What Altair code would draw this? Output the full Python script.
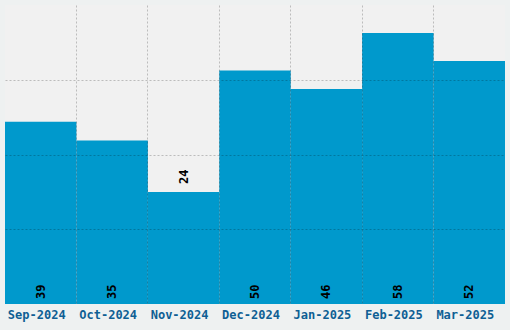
import altair as alt
import pandas as pd

months = ["Sep-2024", "Oct-2024", "Nov-2024", "Dec-2024", "Jan-2025", "Feb-2025", "Mar-2025"]
values = [39, 35, 24, 50, 46, 58, 52]

df = pd.DataFrame({"month": months, "value": values})

FONT = "DejaVu Sans Mono"

x = alt.X("month:N", sort=months, title=None,
          scale=alt.Scale(paddingInner=0, paddingOuter=0),
          axis=alt.Axis(labelAngle=0, domain=False, ticks=False, labelPadding=5,
                        labelFont=FONT, labelFontSize=12, labelFontWeight="bold",
                        labelColor="#0f5f94", labelOffset=-4, grid=True, bandPosition=0,
                        gridColor="black",
                        gridOpacity={"condition": {"test": "datum.value === 'Sep-2024'", "value": 0}, "value": 0.22},
                        gridDash=[2, 2], zindex=1))
y = alt.Y("value:Q", title=None, scale=alt.Scale(domain=[0, 64], nice=False),
          axis=alt.Axis(labels=False, domain=False, ticks=False, values=[16, 32, 48],
                        grid=True, gridColor="black", gridOpacity=0.22, gridDash=[2, 2], zindex=1))

base = alt.Chart(df).transform_joinaggregate(minv="min(value)")

bars = base.mark_bar(color="#0099cc").encode(x=x, y=y)

bottom = base.transform_filter("datum.value != datum.minv").mark_text(
    angle=270, align="left", baseline="middle", dx=5,
    font=FONT, fontSize=12, fontWeight="bold", color="black"
).encode(x=alt.X("month:N", sort=months), y=alt.datum(0), text="value:Q")

top = base.transform_filter("datum.value == datum.minv").mark_text(
    angle=270, align="left", baseline="middle", dx=8,
    font=FONT, fontSize=12, fontWeight="bold", color="black"
).encode(x=alt.X("month:N", sort=months), y="value:Q", text="value:Q")

chart = alt.layer(bars, bottom, top).properties(
    width=500, height=299,
    autosize=alt.AutoSizeParams(type="none"),
    padding={"left": 5, "top": 5, "right": 5, "bottom": 26},
    background="#eef1f1",
).configure_view(fill="#f1f1f1", stroke=None)

chart.save("out.html", embed_options={"renderer": "svg", "actions": False})
